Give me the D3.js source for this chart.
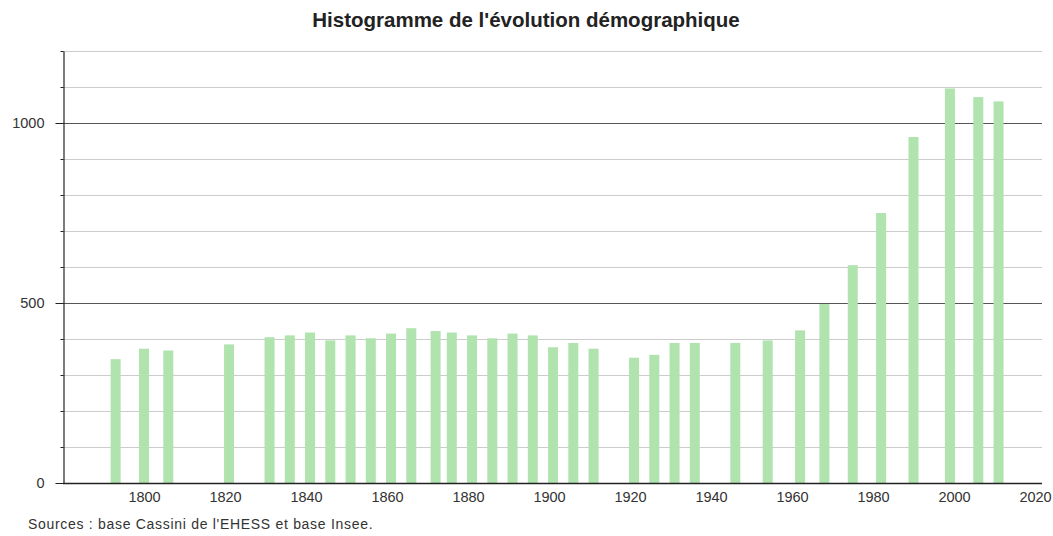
<!DOCTYPE html>
<html>
<head>
<meta charset="utf-8">
<script src="https://cdn.jsdelivr.net/npm/d3@7"></script>
<style>
    body { margin: 0; background: #fff; }
    svg text { font-family: 'Liberation Sans', Arial, sans-serif; fill: #333; }
    .title { font-weight: bold; font-size: 20.5px; fill: #222; }
</style>
</head>
<body>
<svg id="chart" width="1053" height="536"></svg>
<script>
// recensements
var years = [1793, 1800, 1806, 1821, 1831, 1836, 1841, 1846, 1851, 1856,
    1861, 1866, 1872, 1876, 1881, 1886, 1891, 1896, 1901, 1906,
    1911, 1921, 1926, 1931, 1936, 1946, 1954, 1962, 1968, 1975,
    1982, 1990, 1999, 2006, 2011];
var population = [344, 373, 368, 385, 405, 410, 418, 396, 410, 402,
    415, 430, 422, 418, 410, 402, 415, 410, 377, 389,
    373, 348, 356, 389, 389, 389, 396, 424, 497, 605,
    750, 961, 1096, 1072, 1060];
var xTicks = [1800, 1820, 1840, 1860, 1880, 1900, 1920, 1940, 1960, 1980, 2000, 2020];
var yLabels = [0, 500, 1000];

var svg = d3.select('#chart');

var x = d3.scaleLinear().domain([1780, 2020]).range([63, 1035]);
var y = d3.scaleLinear().domain([0, 1200]).range([483, 51]);
var right = 1042;

svg.append('text')
    .attr('class', 'title')
    .attr('x', 526)
    .attr('y', 27)
    .attr('text-anchor', 'middle')
    .text("Histogramme de l'évolution démographique");

// grille
var grid = d3.range(100, 1201, 100);
svg.append('g')
    .selectAll('line')
    .data(grid)
    .enter()
    .append('line')
    .attr('x1', 63)
    .attr('x2', right)
    .attr('y1', function(d) { return Math.round(y(d)) + 0.5; })
    .attr('y2', function(d) { return Math.round(y(d)) + 0.5; })
    .attr('stroke', function(d) { return d % 500 === 0 ? '#555' : '#ccc'; })
    .attr('stroke-width', 1.2);

svg.append('g')
    .selectAll('rect')
    .data(years)
    .enter()
    .append('rect')
    .attr('x', function(d) { return x(d) - 5; })
    .attr('width', 10)
    .attr('y', function(d, i) { return y(population[i]); })
    .attr('height', function(d, i) { return y(0) - y(population[i]); })
    .attr('fill', '#b0e3ae');

// axe y
var yAxis = d3.axisLeft(y)
    .tickValues(d3.range(0, 1201, 100))
    .tickSize(0)
    .tickFormat(function(d) { return yLabels.indexOf(d) >= 0 ? d : ''; });

var gy = svg.append('g')
    .attr('transform', 'translate(63.5,0)')
    .call(yAxis);
gy.select('.domain').attr('stroke', '#222').attr('stroke-width', 1.2);
gy.selectAll('.tick line')
    .attr('x2', function(d) { return d % 500 === 0 ? -8 : -3; })
    .attr('stroke', '#222');
gy.selectAll('.tick text')
    .attr('x', -19)
    .style('font-size', '14.5px')
    .style('font-family', "'Liberation Sans', Arial, sans-serif")
    .attr('fill', '#333');

// axe x
var xAxis = d3.axisBottom(x)
    .tickValues(xTicks)
    .tickSize(0)
    .tickFormat(d3.format('d'));

var gx = svg.append('g')
    .attr('transform', 'translate(0,' + (y(0) + 0.5) + ')')
    .call(xAxis);
gx.select('.domain').remove();
gx.append('line')
    .attr('x1', 63)
    .attr('x2', right)
    .attr('stroke', '#222')
    .attr('stroke-width', 1.5);
gx.selectAll('.tick text')
    .attr('y', 8)
    .style('font-size', '14.5px')
    .style('font-family', "'Liberation Sans', Arial, sans-serif")
    .attr('fill', '#333');

svg.append('text')
    .attr('x', 28)
    .attr('y', 529)
    .style('font-size', '14px')
    .style('letter-spacing', '0.7px')
    .text("Sources : base Cassini de l'EHESS et base Insee.");
</script>
</body>
</html>
